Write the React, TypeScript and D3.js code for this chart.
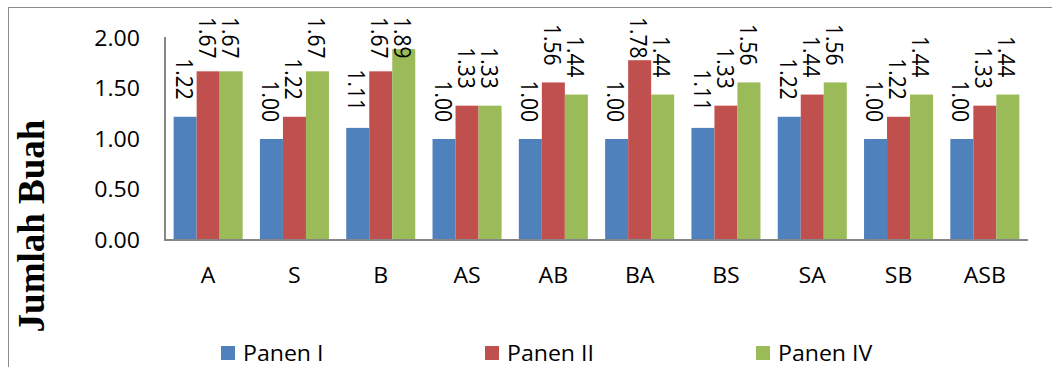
import React from "react";
import * as d3 from "d3";

// Treatment combinations on the x axis
const categories = ["A", "S", "B", "AS", "AB", "BA", "BS", "SA", "SB", "ASB"];

// Mean fruit count per harvest
const panenI = [1.22, 1.0, 1.11, 1.0, 1.0, 1.0, 1.11, 1.22, 1.0, 1.0];
const panenII = [1.67, 1.22, 1.67, 1.33, 1.56, 1.78, 1.33, 1.44, 1.22, 1.33];
const panenIV = [1.67, 1.67, 1.89, 1.33, 1.44, 1.44, 1.56, 1.56, 1.44, 1.44];

const seriesNames = ["Panen I", "Panen II", "Panen IV"];
const seriesColors = ["#4F81BD", "#C0504D", "#9BBB59"];
const yTicks = [0, 0.5, 1, 1.5, 2];

const W = 1052;
const H = 367;
const FONT = "'Open Sans', 'Noto Sans', sans-serif";
const FS = 21;
const SX = 1.1; // slight horizontal widening of the text
const LABEL_LEN = 41.6;

export default function App() {
  const series = [panenI, panenII, panenIV];
  const x = d3
    .scaleBand<string>()
    .domain(categories)
    .range([165, 1028])
    .paddingInner(0.2)
    .paddingOuter(0.1);
  const xs = d3
    .scaleBand<number>()
    .domain([0, 1, 2])
    .range([0, x.bandwidth()]);
  const y = d3.scaleLinear().domain([0, 2]).range([240, 38]);

  const legendX = [221, 485, 756];

  return (
    <svg
      width={W}
      height={H}
      style={{ position: "absolute", left: 0, top: 0, background: "#fff" }}
    >
      <rect x={0} y={0} width={W} height={H} fill="#fff" />
      {/* chart frame */}
      <rect
        x={8.5}
        y={7.5}
        width={W + 20}
        height={H + 20}
        fill="none"
        stroke="#8c8c8c"
        strokeWidth={1}
      />

      {/* y axis title */}
      <text
        transform={`translate(44, 226) rotate(-90)`}
        textAnchor="middle"
        fontFamily="'Liberation Serif', 'Times New Roman', serif"
        fontWeight="bold"
        fontSize={37}
        fill="#000"
      >
        Jumlah Buah
      </text>

      {/* y tick labels */}
      {yTicks.map((t) => (
        <text
          key={t}
          transform={`translate(140, ${y(t) + 7.5}) scale(${SX},1)`}
          textAnchor="end"
          fontFamily={FONT}
          fontSize={FS}
          fill="#000"
        >
          {t.toFixed(2)}
        </text>
      ))}

      {/* bars */}
      {categories.map((c, i) => (
        <g key={c} transform={`translate(${x(c)},0)`}>
          {series.map((s, k) => (
            <rect
              key={k}
              x={xs(k)}
              y={y(s[i])}
              width={xs.bandwidth()}
              height={y(0) - y(s[i])}
              fill={seriesColors[k]}
            />
          ))}
        </g>
      ))}

      {/* axes */}
      <line x1={165} x2={165} y1={37} y2={240} stroke="#868686" strokeWidth={2} />
      <line x1={164} x2={1028} y1={240} y2={240} stroke="#868686" strokeWidth={2} />

      {/* value labels */}
      {categories.map((c, i) =>
        series.map((s, k) => {
          const cx = (x(c) as number) + (xs(k) as number) + xs.bandwidth() / 2;
          const endY = y(s[i]) - 17;
          const clamped = endY - LABEL_LEN < 17;
          const py = clamped ? 17 : endY;
          return (
            <text
              key={`${c}-${k}`}
              transform={`translate(${cx}, ${py}) scale(${SX},1) rotate(90)`}
              textAnchor={clamped ? "start" : "end"}
              dominantBaseline="central"
              fontFamily={FONT}
              fontSize={FS}
              fill="#000"
            >
              {s[i].toFixed(2)}
            </text>
          );
        })
      )}

      {/* category labels */}
      {categories.map((c) => (
        <text
          key={c}
          transform={`translate(${(x(c) as number) + x.bandwidth() / 2}, 283) scale(${SX},1)`}
          textAnchor="middle"
          fontFamily={FONT}
          fontSize={FS}
          fill="#000"
        >
          {c}
        </text>
      ))}

      {/* legend */}
      {seriesNames.map((n, k) => (
        <g key={n}>
          <rect x={legendX[k]} y={346} width={14} height={14} fill={seriesColors[k]} />
          <text
            transform={`translate(${legendX[k] + 22}, 361) scale(${SX},1)`}
            fontFamily={FONT}
            fontSize={FS}
            fill="#000"
          >
            {n}
          </text>
        </g>
      ))}
    </svg>
  );
}
